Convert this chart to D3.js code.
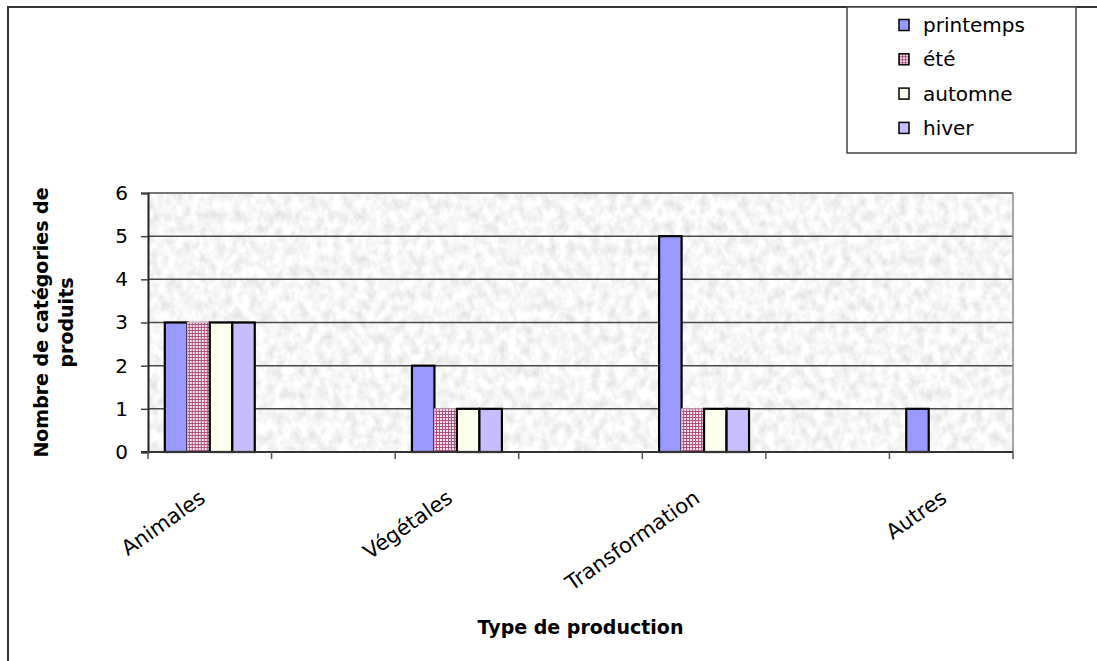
<!DOCTYPE html>
<html>
<head>
<meta charset="utf-8">
<script src="https://cdn.jsdelivr.net/npm/d3@7"></script>
<style>
  html, body { margin: 0; padding: 0; background: #fff; }
  svg { display: block; }
  text { font-family: "DejaVu Sans", sans-serif; fill: #000; }
</style>
</head>
<body>
<svg id="chart" width="1097" height="661"></svg>
<script>
// Category slots on the x axis (empty slots separate the production types)
const categories = ["Animales", "", "Végétales", "", "Transformation", "", "Autres"];
const seasons = ["printemps", "été", "automne", "hiver"];
const printemps = [3, null, 2, null, 5, null, 1];
const ete       = [3, null, 1, null, 1, null, 0];
const automne   = [3, null, 1, null, 1, null, 0];
const hiver     = [3, null, 1, null, 1, null, 0];
const yTicks = [0, 1, 2, 3, 4, 5, 6];

const seriesValues = [printemps, ete, automne, hiver];

const svg = d3.select("#chart");
const W = 1097, H = 661;
const plot = { left: 148, right: 1013, top: 193, bottom: 452 };

const defs = svg.append("defs");

// grainy grey paper texture for the plot area
const tex = defs.append("filter").attr("id", "paper")
  .attr("x", 0).attr("y", 0).attr("width", 1).attr("height", 1);
tex.append("feTurbulence").attr("type", "fractalNoise")
  .attr("baseFrequency", "0.12 0.09").attr("numOctaves", 3).attr("seed", 7).attr("result", "n");
tex.append("feColorMatrix").attr("type", "matrix")
  .attr("values", "0.42 0 0 0 0.71  0.42 0 0 0 0.71  0.42 0 0 0 0.71  0 0 0 0 1");

// small checked pattern used for the "été" series
const pat = defs.append("pattern").attr("id", "check")
  .attr("patternUnits", "userSpaceOnUse").attr("width", 3).attr("height", 3);
pat.append("rect").attr("width", 3).attr("height", 3).attr("fill", "#f6e6ee");
pat.append("rect").attr("width", 3).attr("height", 1).attr("fill", "#b0507e");
pat.append("rect").attr("width", 1).attr("height", 3).attr("fill", "#b0507e");

const fills = ["#9999ff", "url(#check)", "#ffffee", "#c8beff"];
const strokes = ["#000", "#e2b4c8", "#000", "#000"];

// outer chart frame
svg.append("path")
  .attr("d", `M8,${H} L8,7 L${W},7`)
  .attr("fill", "none").attr("stroke", "#333").attr("stroke-width", 2);

// scales
const x = d3.scaleBand().domain(d3.range(categories.length))
  .range([plot.left, plot.right]).paddingInner(0).paddingOuter(0);
const y = d3.scaleLinear().domain([0, 6]).range([plot.bottom, plot.top]);
const groupW = x.bandwidth() * 0.728;
const xs = d3.scaleBand().domain(seasons).range([0, groupW]);

// plot background
svg.append("rect")
  .attr("x", plot.left).attr("y", plot.top)
  .attr("width", plot.right - plot.left).attr("height", plot.bottom - plot.top)
  .attr("fill", "#eee").attr("filter", "url(#paper)");

// horizontal gridlines
svg.append("g").selectAll("line").data(yTicks.filter(d => d > 0)).join("line")
  .attr("x1", plot.left).attr("x2", plot.right)
  .attr("y1", d => y(d)).attr("y2", d => y(d))
  .attr("stroke", "#4a4a4a").attr("stroke-width", 1.5);

// right edge of the plot area
svg.append("line")
  .attr("x1", plot.right).attr("x2", plot.right)
  .attr("y1", plot.top).attr("y2", plot.bottom)
  .attr("stroke", "#888").attr("stroke-width", 1.5);

// bars, one group per category slot
const groups = svg.append("g").selectAll("g").data(categories).join("g")
  .attr("transform", (d, i) => `translate(${x(i) + (x.bandwidth() - groupW) / 2},0)`);

groups.selectAll("rect")
  .data((d, i) => seasons.map((s, si) => ({ s, si, v: seriesValues[si][i] }))
    .filter(b => b.v != null && b.v > 0))
  .join("rect")
  .attr("x", b => xs(b.s))
  .attr("width", xs.bandwidth())
  .attr("y", b => y(b.v))
  .attr("height", b => y(0) - y(b.v))
  .attr("fill", b => fills[b.si])
  .attr("stroke", b => strokes[b.si])
  .attr("stroke-width", b => b.si === 1 ? 1 : 2.2);

// y axis
const yAxis = d3.axisLeft(y).tickValues(yTicks).tickSize(7).tickPadding(13).tickFormat(d3.format("d"));
const gy = svg.append("g").attr("transform", `translate(${plot.left},0)`).call(yAxis);
gy.select(".domain").attr("stroke", "#222").attr("stroke-width", 2);
gy.selectAll(".tick line").attr("stroke", "#444").attr("stroke-width", 1.5);
gy.selectAll(".tick text").style("font-size", "20px").style("font-family", "DejaVu Sans");

// x axis baseline and band separators
const gx = svg.append("g");
gx.append("line").attr("x1", plot.left - 7).attr("x2", plot.right)
  .attr("y1", plot.bottom).attr("y2", plot.bottom)
  .attr("stroke", "#333").attr("stroke-width", 2);
gx.selectAll("line.sep").data(d3.range(categories.length + 1)).join("line")
  .attr("class", "sep")
  .attr("x1", i => plot.left + i * x.bandwidth()).attr("x2", i => plot.left + i * x.bandwidth())
  .attr("y1", plot.bottom).attr("y2", plot.bottom + 7)
  .attr("stroke", "#555").attr("stroke-width", 1.5);

// rotated category labels
gx.selectAll("text").data(categories.map((c, i) => ({ c, i })).filter(d => d.c !== "")).join("text")
  .attr("transform", d => `translate(${x(d.i) + x.bandwidth() / 2 - 3},501) rotate(-35)`)
  .attr("text-anchor", "end")
  .style("font-size", "21px")
  .text(d => d.c);

// axis titles
svg.append("text")
  .attr("x", (plot.left + plot.right) / 2).attr("y", 634)
  .attr("text-anchor", "middle")
  .style("font-size", "19px").style("font-weight", "bold")
  .text("Type de production");

const yt = svg.append("text")
  .attr("transform", `translate(0,${(plot.top + plot.bottom) / 2}) rotate(-90)`)
  .attr("text-anchor", "middle")
  .style("font-size", "19px").style("font-weight", "bold");
yt.append("tspan").attr("x", 0).attr("y", 48).text("Nombre de catégories de");
yt.append("tspan").attr("x", 0).attr("y", 73).text("produits");

// legend
const lg = svg.append("g");
lg.append("rect").attr("x", 847).attr("y", 7).attr("width", 229).attr("height", 146)
  .attr("fill", "#fff").attr("stroke", "#444").attr("stroke-width", 1.5);
const items = lg.selectAll("g").data(seasons).join("g")
  .attr("transform", (d, i) => `translate(899,${25 + i * 34.3})`);
items.append("rect").attr("x", 0).attr("y", -5.5).attr("width", 10).attr("height", 11)
  .attr("fill", (d, i) => fills[i]).attr("stroke", "#000").attr("stroke-width", 1.5);
items.append("text").attr("x", 24).attr("y", 7)
  .style("font-size", "20px")
  .text(d => d);
</script>
</body>
</html>
